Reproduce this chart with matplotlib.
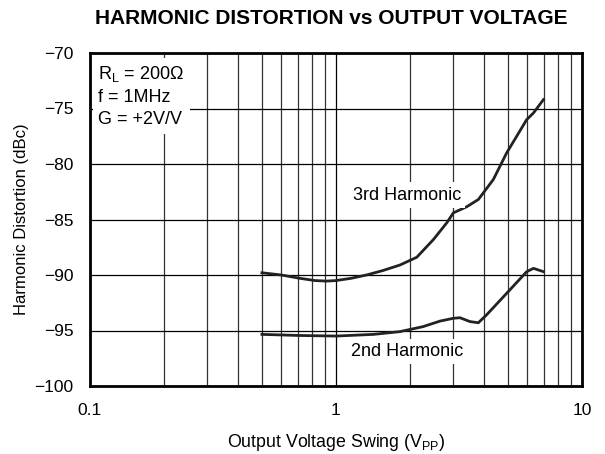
import matplotlib.pyplot as plt
from matplotlib.ticker import FixedLocator, NullFormatter

plt.rcParams['font.family'] = ['Liberation Sans', 'DejaVu Sans']

# 3rd harmonic
h3_v = [0.5, 0.6, 0.714, 0.82, 0.916, 1.0, 1.15, 1.33, 1.55, 1.82, 2.13, 2.49, 2.82, 3.0,
        3.4, 3.79, 4.36, 4.94, 5.96, 6.35, 6.97]
h3_db = [-89.8, -90.0, -90.3, -90.5, -90.55, -90.5, -90.3, -90.0, -89.6, -89.1, -88.4,
         -86.8, -85.3, -84.4, -83.85, -83.2, -81.4, -79.0, -76.0, -75.4, -74.2]

# 2nd harmonic
h2_v = [0.5, 0.714, 1.0, 1.42, 1.82, 2.26, 2.65, 3.0, 3.19, 3.51, 3.79, 4.09, 4.94, 5.96,
        6.35, 6.97]
h2_db = [-95.35, -95.45, -95.5, -95.35, -95.1, -94.65, -94.15, -93.9, -93.85, -94.2,
         -94.3, -93.6, -91.65, -89.7, -89.4, -89.7]

fig = plt.figure(figsize=(6.05, 4.54), dpi=100)
ax = fig.add_axes([90 / 605, 1 - 386 / 454, 492 / 605, 333 / 454])

ax.set_xscale('log')
ax.set_xlim(0.1, 10)
ax.set_ylim(-100, -70)

minor = [m * 10 ** e for e in (-1, 0) for m in range(2, 10)]
ax.xaxis.set_major_locator(FixedLocator([0.1, 1, 10]))
ax.xaxis.set_minor_locator(FixedLocator(minor))
ax.xaxis.set_minor_formatter(NullFormatter())
ax.set_xticklabels(['0.1', '1', '10'])
ax.set_yticks([-100, -95, -90, -85, -80, -75, -70])
ax.set_yticklabels(['\u2212100', '\u221295', '\u221290', '\u221285', '\u221280', '\u221275', '\u221270'])
ax.tick_params(which='both', length=0, labelsize=12.5, pad=12)

ax.grid(True, which='major', color='black', linewidth=0.9)
ax.grid(True, which='minor', axis='x', color='#333333', linewidth=0.9)
for s in ax.spines.values():
    s.set_linewidth(2)

ax.plot(h3_v, h3_db, color='#222222', linewidth=2, zorder=3)
ax.plot(h2_v, h2_db, color='#222222', linewidth=2, zorder=3)

box = dict(facecolor='white', edgecolor='none', pad=3)
ax.text(1.94, -82.8, '3rd Harmonic', fontsize=13, ha='center', va='center', bbox=box, zorder=4)
ax.text(1.94, -96.9, '2nd Harmonic', fontsize=13, ha='center', va='center', bbox=box, zorder=4)
ax.text(0.108, -71.0, 'R$_\\mathregular{L}$ = 200\u03a9\nf = 1MHz\nG = +2V/V', fontsize=13,
        ha='left', va='top', linespacing=1.4,
        bbox=dict(facecolor='white', edgecolor='none', pad=4), zorder=4)

ax.set_xlabel('Output Voltage Swing (V$_\\mathregular{PP}$)', fontsize=12.8, labelpad=10)
ax.set_ylabel('Harmonic Distortion (dBc)', fontsize=12, labelpad=4)
fig.text(0.547, 0.96, 'HARMONIC DISTORTION vs OUTPUT VOLTAGE', fontsize=15,
         fontweight='bold', ha='center', va='center')

fig.savefig('out.png', dpi=100)
